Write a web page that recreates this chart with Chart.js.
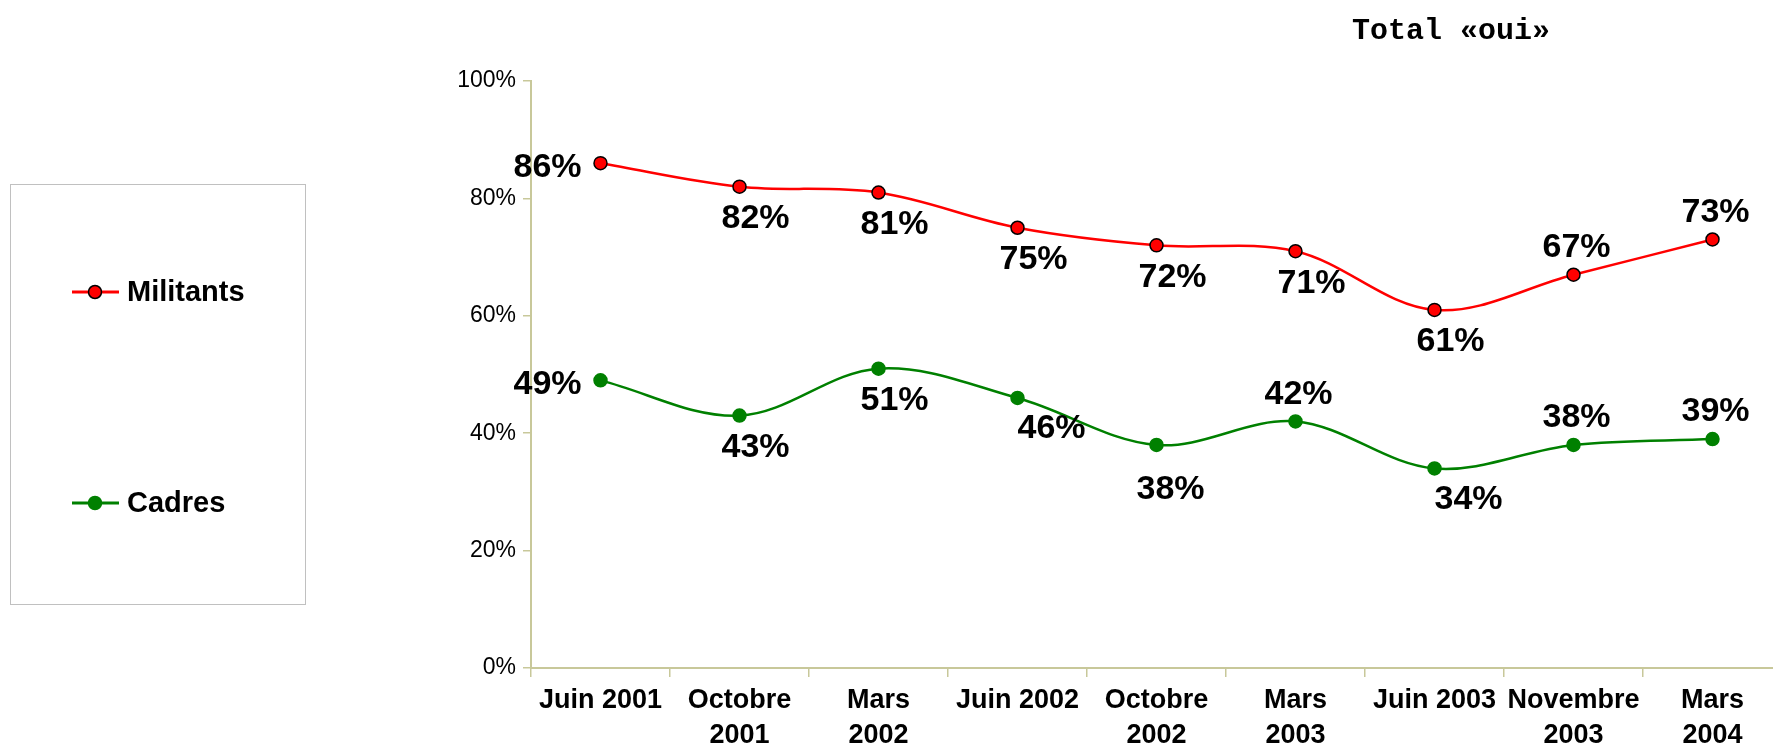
<!DOCTYPE html>
<html>
<head>
<meta charset="utf-8">
<script src="https://cdn.jsdelivr.net/npm/chart.js@4"></script>
<style>
    html, body { margin: 0; padding: 0; background: #fff; overflow: hidden; }
    #wrap { width: 1773px; height: 746px; overflow: hidden; position: relative; }
    #wrap canvas { position: absolute; left: 0; top: 0; }
</style>
</head>
<body>
<div id="wrap"><canvas id="chartOui" width="1790" height="746"></canvas></div>
<script>
const categories = [
    'Juin 2001', ['Octobre', '2001'], ['Mars', '2002'], 'Juin 2002', ['Octobre', '2002'],
    ['Mars', '2003'], 'Juin 2003', ['Novembre', '2003'], ['Mars', '2004']
];
const militants = [86, 82, 81, 75, 72, 71, 61, 67, 73];
const cadres = [49, 43, 51, 46, 38, 42, 34, 38, 39];
const yTicks = [0, 20, 40, 60, 80, 100];

(() => {
    const font = '"Liberation Sans", Arial, sans-serif';
    const axisColor = '#c8c89a';
    const palette = {
        militants: '#ff0000',
        cadres: '#008000'
    };

    // where each value label sits relative to its point
    const labelPlacement = [
        ['left', 'below', 'below', 'below', 'below', 'below', 'below', 'above', 'above'],
        ['left', 'below', 'below', 'belowRight', 'belowFar', 'above', 'belowRight', 'above', 'above']
    ];
    const offsets = {
        left: [-53, 4],
        below: [16, 32],
        belowRight: [34, 31],
        belowFar: [14, 45],
        above: [3, -27]
    };

    const valueLabels = {
        id: 'valueLabels',
        afterDatasetsDraw(chart) {
            const ctx = chart.ctx;
            ctx.save();
            ctx.font = `bold 34px ${font}`;
            ctx.fillStyle = '#000';
            ctx.textAlign = 'center';
            ctx.textBaseline = 'middle';
            chart.data.datasets.forEach((ds, di) => {
                chart.getDatasetMeta(di).data.forEach((pt, i) => {
                    const off = offsets[labelPlacement[di][i]];
                    ctx.fillText(`${ds.data[i]}%`, pt.x + off[0], pt.y + off[1]);
                });
            });
            ctx.restore();
        }
    };

    const sideLegend = {
        id: 'sideLegend',
        afterDraw(chart) {
            const ctx = chart.ctx;
            ctx.save();
            ctx.strokeStyle = '#c0c0c0';
            ctx.lineWidth = 1;
            ctx.strokeRect(10.5, 184.5, 295, 420);
            const rows = [
                { label: 'Militants', y: 292, color: palette.militants, border: '#000' },
                { label: 'Cadres', y: 503, color: palette.cadres, border: palette.cadres }
            ];
            rows.forEach((row) => {
                ctx.strokeStyle = row.color;
                ctx.lineWidth = 3;
                ctx.beginPath();
                ctx.moveTo(72, row.y);
                ctx.lineTo(119, row.y);
                ctx.stroke();
                ctx.beginPath();
                ctx.arc(95, row.y, 6.5, 0, Math.PI * 2);
                ctx.fillStyle = row.color;
                ctx.fill();
                ctx.lineWidth = 1.5;
                ctx.strokeStyle = row.border;
                ctx.stroke();
                ctx.fillStyle = '#000';
                ctx.font = `bold 29px ${font}`;
                ctx.textAlign = 'left';
                ctx.textBaseline = 'middle';
                ctx.fillText(row.label, 127, row.y + 1);
            });
            // title
            ctx.font = 'bold 30px "Courier New", "Liberation Mono", monospace';
            ctx.fillText('Total «oui»', 1352, 31);
            ctx.restore();
        }
    };

    const lineStyle = {
        borderWidth: 2.5,
        pointRadius: 6.5,
        pointHoverRadius: 6.5,
        pointBorderWidth: 1.5,
        tension: 0.35,
        fill: false
    };

    new Chart(document.getElementById('chartOui'), {
        type: 'line',
        data: {
            labels: categories,
            datasets: [
                {
                    ...lineStyle,
                    label: 'Militants',
                    data: militants,
                    borderColor: palette.militants,
                    backgroundColor: palette.militants,
                    pointBackgroundColor: palette.militants,
                    pointBorderColor: '#000'
                },
                {
                    ...lineStyle,
                    label: 'Cadres',
                    data: cadres,
                    borderColor: palette.cadres,
                    backgroundColor: palette.cadres,
                    pointBackgroundColor: palette.cadres,
                    pointBorderColor: palette.cadres
                }
            ]
        },
        options: {
            responsive: false,
            animation: false,
            layout: { padding: { left: 0, top: 81, right: 8, bottom: 0 } },
            plugins: {
                legend: { display: false },
                tooltip: { enabled: false }
            },
            scales: {
                x: {
                    offset: true,
                    grid: {
                        offset: true,
                        drawOnChartArea: false,
                        tickLength: 9,
                        color: axisColor,
                        lineWidth: 1.5
                    },
                    border: { color: axisColor, width: 2 },
                    ticks: {
                        color: '#000',
                        font: { family: font, size: 27, weight: 'bold', lineHeight: 1.3 },
                        maxRotation: 0,
                        autoSkip: false,
                        padding: 6
                    },
                    afterFit(scale) { scale.height = 78; }
                },
                y: {
                    min: 0,
                    max: 100,
                    afterBuildTicks(scale) { scale.ticks = yTicks.map((v) => ({ value: v })); },
                    grid: {
                        drawOnChartArea: false,
                        tickLength: 8,
                        color: axisColor,
                        lineWidth: 1.5
                    },
                    border: { color: axisColor, width: 2 },
                    ticks: {
                        color: '#000',
                        font: { family: font, size: 23 },
                        padding: 7,
                        callback: (v) => `${v}%`
                    },
                    afterFit(scale) { scale.width = 531; }
                }
            }
        },
        plugins: [valueLabels, sideLegend]
    });
})();
</script>
</body>
</html>
